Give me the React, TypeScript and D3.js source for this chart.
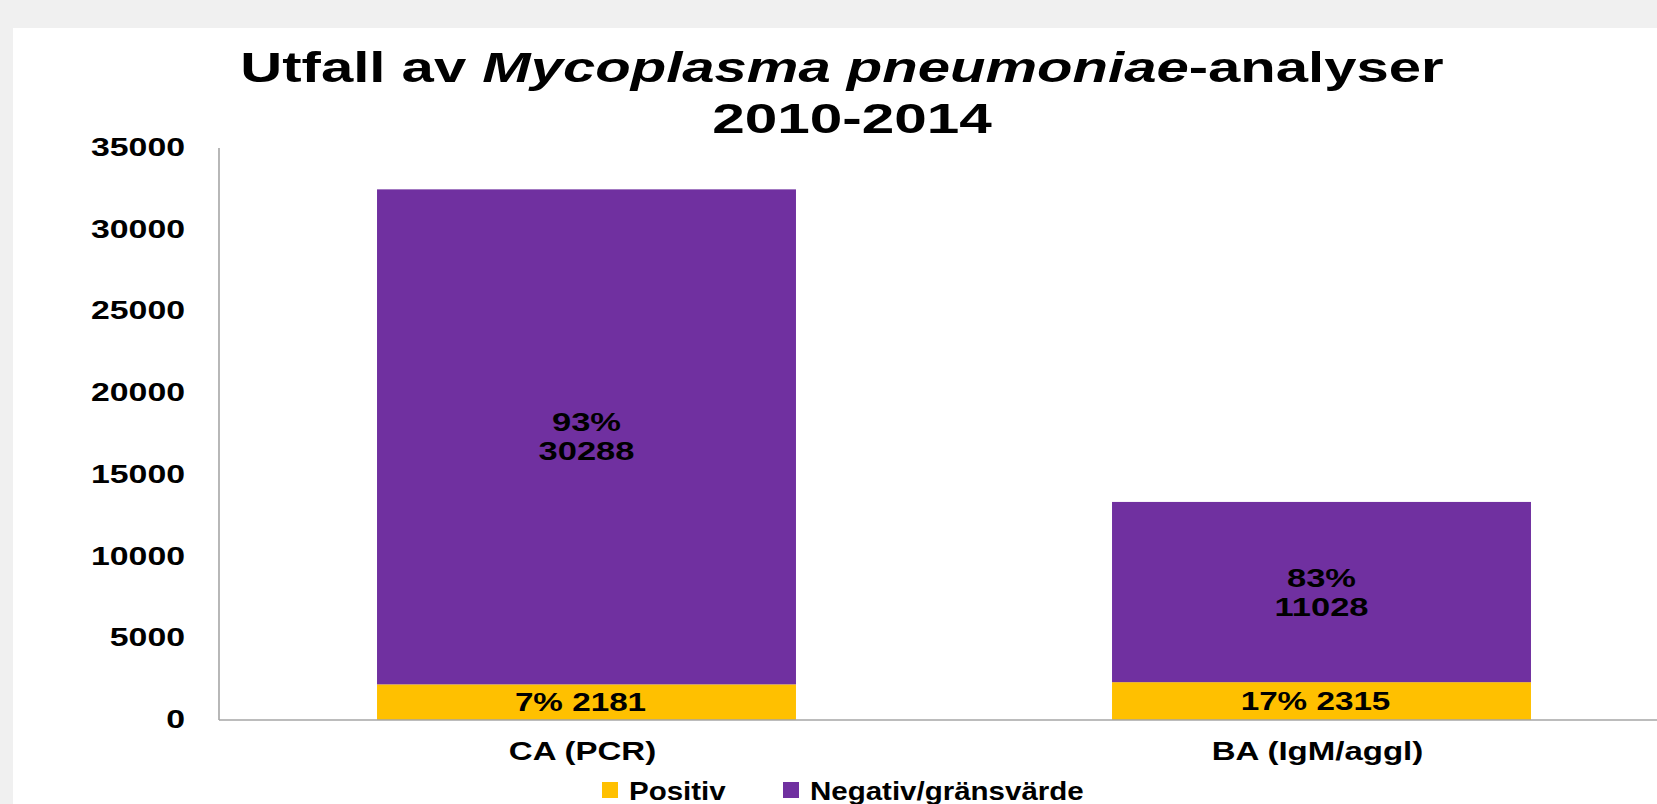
import React from "react";
import * as d3 from "d3";

const categories = ["CA (PCR)", "BA (IgM/aggl)"];
const seriesNames = ["Positiv", "Negativ/gränsvärde"];
const positiv = [2181, 2315];
const negativ = [30288, 11028];
const positivPct = ["7%", "17%"];
const negativPct = ["93%", "83%"];
const yTicks = [0, 5000, 10000, 15000, 20000, 25000, 30000, 35000];
const colors = ["#FFC000", "#7030A0"];

const W = 1657;
const H = 804;
const FONT = "'Liberation Sans', Arial, sans-serif";

function T(props: any) {
  const { x, y, sx = 1, size, anchor = "middle", children, style } = props;
  return (
    <text
      transform={`translate(${x},${y}) scale(${sx},1)`}
      textAnchor={anchor}
      fontSize={size}
      fontWeight="bold"
      fontFamily={FONT}
      fill="#000"
      style={style}
    >
      {children}
    </text>
  );
}

export default function App() {
  const rows = categories.map((c, i) => ({ cat: c, pos: positiv[i], neg: negativ[i] }));
  const stack = d3.stack<any>().keys(["pos", "neg"]);
  const series = stack(rows);

  const y = d3.scaleLinear().domain([0, 35000]).range([720, 148]);
  const x = d3
    .scaleBand<string>()
    .domain(categories)
    .range([219, 1689])
    .paddingInner(0.43)
    .paddingOuter(0.215);

  const axisColor = "#a6a6a6";

  return (
    <svg
      width={W}
      height={H}
      style={{ position: "fixed", left: 0, top: 0, display: "block" }}
    >
      <rect x={0} y={0} width={W} height={H} fill="#f0f0f0" />
      <rect x={13} y={28} width={W - 13} height={H - 28} fill="#ffffff" />

      {/* Title */}
      <T x={842} y={82} sx={1.35} size={43}>
        <tspan>Utfall av </tspan>
        <tspan fontStyle="italic">Mycoplasma pneumoniae</tspan>
        <tspan>-analyser</tspan>
      </T>
      <T x={852} y={133} sx={1.36} size={43}>
        2010-2014
      </T>

      {/* Bars */}
      {series.map((s, si) => (
        <g key={si} fill={colors[si]}>
          {s.map((d, i) => (
            <rect
              key={i}
              x={x(categories[i])}
              y={y(d[1])}
              width={x.bandwidth()}
              height={y(d[0]) - y(d[1])}
            />
          ))}
        </g>
      ))}

      {/* Axes */}
      <line x1={219} x2={219} y1={y(35000)} y2={y(0)} stroke={axisColor} strokeWidth={1.6} />
      <line x1={219} x2={W} y1={y(0)} y2={y(0)} stroke={axisColor} strokeWidth={1.6} />

      {/* Y tick labels */}
      {yTicks.map((t) => (
        <T key={t} x={185} y={y(t) + 8} sx={1.3} size={26} anchor="end">
          {t}
        </T>
      ))}

      {/* Data labels */}
      {series[1].map((d, i) => {
        const mid = (y(d[0]) + y(d[1])) / 2;
        const cx = x(categories[i])! + x.bandwidth() / 2;
        return (
          <g key={"n" + i}>
            <T x={cx} y={mid - 14.5 + 9} sx={1.38} size={25}>
              {negativPct[i]}
            </T>
            <T x={cx} y={mid + 14.5 + 9} sx={1.38} size={25}>
              {negativ[i]}
            </T>
          </g>
        );
      })}
      {series[0].map((d, i) => {
        const mid = (y(d[0]) + y(d[1])) / 2;
        const cx = x(categories[i])! + x.bandwidth() / 2 - 6;
        return (
          <T key={"p" + i} x={cx} y={mid + 9} sx={1.33} size={25}>
            {positivPct[i] + " " + positiv[i]}
          </T>
        );
      })}

      {/* Category labels */}
      {categories.map((c) => (
        <T key={c} x={x(c)! + x.bandwidth() / 2 - 4} y={760} sx={1.27} size={26}>
          {c}
        </T>
      ))}

      {/* Legend */}
      {seriesNames.map((n, i) => {
        const lx = [602, 783][i];
        return (
          <g key={n}>
            <rect x={lx} y={782} width={16} height={16} fill={colors[i]} />
            <T x={lx + 27} y={800} sx={1.18} size={25} anchor="start">
              {n}
            </T>
          </g>
        );
      })}
    </svg>
  );
}
